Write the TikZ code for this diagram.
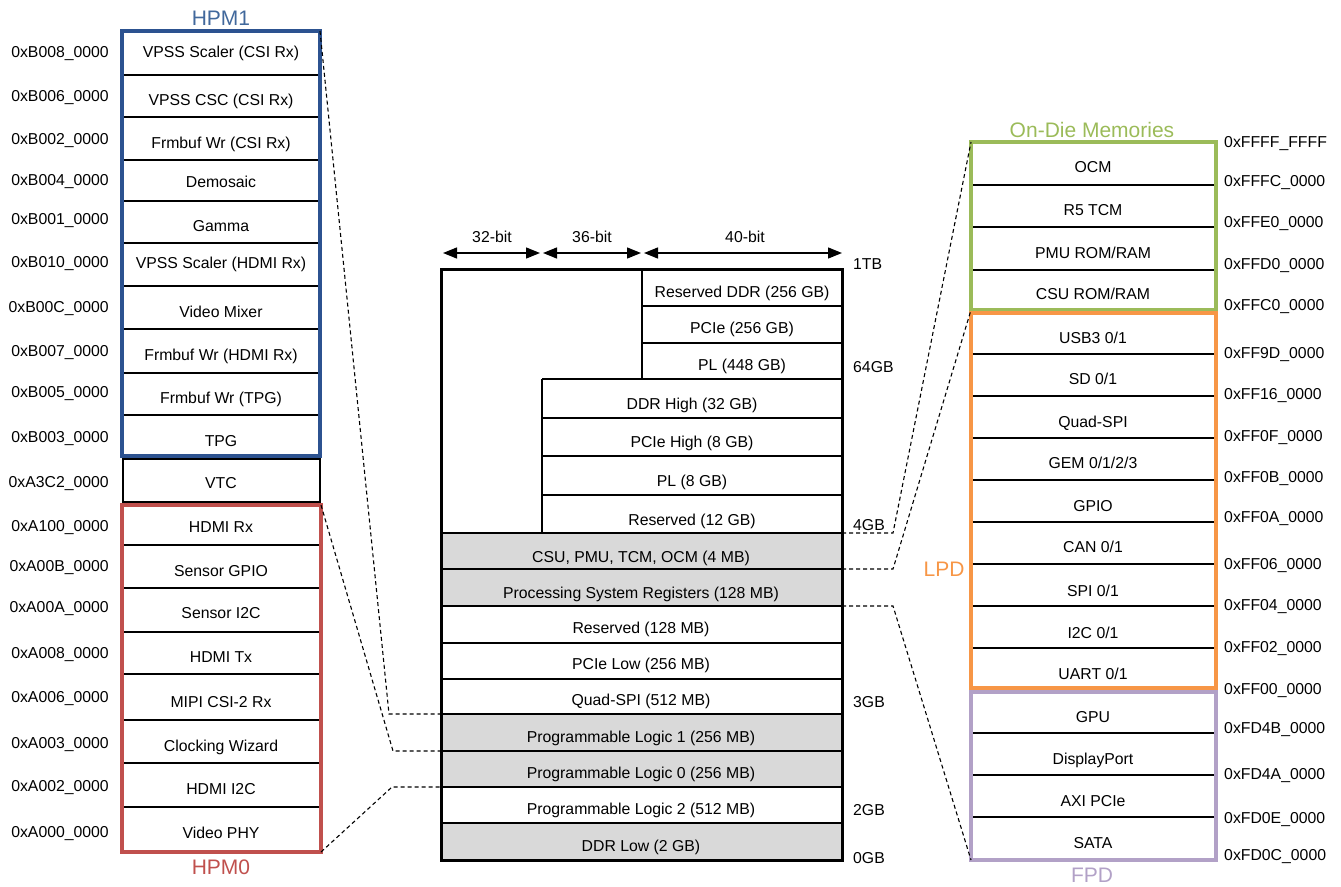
\documentclass[tikz,border=0pt]{standalone}
\usepackage{fontspec}
\setmainfont{Liberation Sans}
\usetikzlibrary{arrows.meta}
\definecolor{hpmblue}{HTML}{2C5290}
\definecolor{hpmbluet}{HTML}{41689C}
\definecolor{hpmred}{HTML}{C0504D}
\definecolor{odgreen}{HTML}{9BBB59}
\definecolor{lpdorange}{HTML}{F79646}
\definecolor{fpdpurple}{HTML}{B2A1C7}
\definecolor{cellgray}{HTML}{D9D9D9}
\begin{document}
\begin{tikzpicture}[x=1pt,y=-1pt,
  lbl/.style={font=\fontsize{15.8}{18}\selectfont, inner sep=0pt, text height=11.4pt, text depth=0pt},
  addrl/.style={lbl, anchor=east},
  addrr/.style={lbl, anchor=west},
  mtitle/.style={font=\fontsize{21}{24}\selectfont, inner sep=0pt, text height=15pt, text depth=0pt},
  boxframe/.style={draw, line width=3.2pt, anchor=north west, inner sep=0pt, outer sep=0pt},
  divline/.style={line width=2.6pt},
  lnk/.style={line width=1.1pt, dash pattern=on 4pt off 3pt},
  dimarrow/.style={line width=1.3pt, {Triangle[length=14pt,width=11pt]}-{Triangle[length=14pt,width=11pt]}}
]
\useasboundingbox (0,0) rectangle (1341,886);

% ---------------- Left column: HPM1 ----------------
\foreach \y in {75,117,160,201,243,286,329,373,415}
  \draw[divline] (122,\y) -- (320,\y);
\node[boxframe, draw=hpmblue, minimum width=198pt, minimum height=425pt] (hpm1) at (122,31) {};
\node[mtitle, text=hpmbluet] (hpm1t) at (221,18) {HPM1};
% VTC
\node[boxframe, draw=black, line width=2.6pt, minimum width=197pt, minimum height=43pt] (vtcbox) at (123,459) {};
% HPM0
\foreach \y in {545,588,632,674,720,763,807}
  \draw[divline] (122,\y) -- (321,\y);
\node[boxframe, draw=hpmred, minimum width=199pt, minimum height=347pt] (hpm0) at (122,505) {};
\node[mtitle, text=hpmred] (hpm0t) at (221,867) {HPM0};

\foreach \t/\y [count=\i] in {VPSS Scaler (CSI Rx)/52, VPSS CSC (CSI Rx)/100, Frmbuf Wr (CSI Rx)/143,
  Demosaic/182, Gamma/226, VPSS Scaler (HDMI Rx)/263, Video Mixer/312, Frmbuf Wr (HDMI Rx)/355,
  Frmbuf Wr (TPG)/398, TPG/441, VTC/483, HDMI Rx/527, Sensor GPIO/571, Sensor I2C/613, HDMI Tx/657,
  MIPI CSI-2 Rx/702, Clocking Wizard/746, HDMI I2C/789, Video PHY/833}
  \node[lbl] (lrow\i) at (221,\y) {\t};

\foreach \t/\y [count=\i] in {B008/52, B006/96, B002/139, B004/180, B001/219, B010/262, B00C/307,
  B007/351, B005/392, B003/437, A3C2/482, A100/526, A00B/566, A00A/607, A008/653, A006/697,
  A003/743, A002/786, A000/832}
  \node[addrl] (laddr\i) at (109,\y) {0x\t\_0000};

% ---------------- Middle column ----------------
\fill[cellgray] (441,533) rectangle (842,606);
\fill[cellgray] (441,714) rectangle (842,787);
\fill[cellgray] (441,823) rectangle (842,860);
\draw[divline] (642,269) -- (642,379);
\draw[divline] (542,379) -- (542,533);
\foreach \y in {306,343}
  \draw[divline] (642,\y) -- (842,\y);
\foreach \y in {379,418,456,495}
  \draw[divline] (542,\y) -- (842,\y);
\foreach \y in {533,569,606,643,679,714,751,787,823}
  \draw[divline] (441,\y) -- (842,\y);
\node[boxframe, draw=black, line width=3pt, minimum width=401pt, minimum height=591pt] (mbox) at (441,269) {};

\foreach \t/\y [count=\i] in {Reserved DDR (256 GB)/292, PCIe (256 GB)/328, PL (448 GB)/365}
  \node[lbl] (m40r\i) at (742,\y) {\t};
\foreach \t/\y [count=\i] in {DDR High (32 GB)/404, PCIe High (8 GB)/442, PL (8 GB)/481, Reserved (12 GB)/520}
  \node[lbl] (m36r\i) at (692,\y) {\t};
\foreach \t/\y [count=\i] in {{CSU, PMU, TCM, OCM (4 MB)}/557, Processing System Registers (128 MB)/593,
  Reserved (128 MB)/628, PCIe Low (256 MB)/664, Quad-SPI (512 MB)/700, Programmable Logic 1 (256 MB)/737,
  Programmable Logic 0 (256 MB)/773, Programmable Logic 2 (512 MB)/809, DDR Low (2 GB)/846}
  \node[lbl] (m32r\i) at (641,\y) {\t};

\foreach \t/\y [count=\i] in {1TB/264, 64GB/367, 4GB/525, 3GB/702, 2GB/810, 0GB/858}
  \node[addrr] (gb\i) at (853,\y) {\t};

% width arrows
\coordinate (a32l) at (443,253); \coordinate (a32r) at (540,253);
\coordinate (a36l) at (543,253); \coordinate (a36r) at (641,253);
\coordinate (a40l) at (644,253); \coordinate (a40r) at (842,253);
\draw[dimarrow] (a32l) -- (a32r);
\draw[dimarrow] (a36l) -- (a36r);
\draw[dimarrow] (a40l) -- (a40r);
\node[lbl] (w32) at (492,237) {32-bit};
\node[lbl] (w36) at (592,237) {36-bit};
\node[lbl] (w40) at (745,237) {40-bit};

% ---------------- Right column ----------------
\foreach \y in {185,227,270}
  \draw[divline] (971,\y) -- (1216,\y);
\foreach \y in {354,396,438,480,522,564,606,648}
  \draw[divline] (971,\y) -- (1216,\y);
\foreach \y in {733,775,817}
  \draw[divline] (971,\y) -- (1216,\y);
\node[boxframe, draw=odgreen, minimum width=245pt, minimum height=168pt] (odm) at (971,142) {};
\node[boxframe, draw=lpdorange, minimum width=245pt, minimum height=375pt] (lpd) at (971,313) {};
\node[boxframe, draw=fpdpurple, minimum width=245pt, minimum height=168pt] (fpd) at (971,692) {};
\node[mtitle, text=odgreen] (odmt) at (1092,130) {On-Die Memories};
\node[mtitle, text=lpdorange] (lpdt) at (944,569) {LPD};
\node[mtitle, text=fpdpurple] (fpdt) at (1092,875) {FPD};

\foreach \t/\y [count=\i] in {OCM/167, R5 TCM/210, PMU ROM{/}RAM/253, CSU ROM{/}RAM/294, USB3 0{/}1/338,
  SD 0{/}1/379, Quad-SPI/422, GEM 0{/}1{/}2{/}3/463, GPIO/506, CAN 0{/}1/547, SPI 0{/}1/591, I2C 0{/}1/633,
  UART 0{/}1/674, GPU/717, DisplayPort/759, AXI PCIe/801, SATA/843}
  \node[lbl] (rrow\i) at (1093,\y) {\t};

\foreach \t/\y [count=\i] in {FFFF\_FFFF/142, FFFC\_0000/181, FFE0\_0000/222, FFD0\_0000/264, FFC0\_0000/305,
  FF9D\_0000/353, FF16\_0000/394, FF0F\_0000/436, FF0B\_0000/477, FF0A\_0000/517, FF06\_0000/564,
  FF04\_0000/605, FF02\_0000/647, FF00\_0000/689, FD4B\_0000/728, FD4A\_0000/774, FD0E\_0000/818, FD0C\_0000/855}
  \node[addrr] (raddr\i) at (1224,\y) {0x\t};

% ---------------- Dashed connectors ----------------
\coordinate (pl1top) at (441,714);
\coordinate (pl0top) at (441,751);
\coordinate (pl0bot) at (441,787);
\coordinate (gbfour) at (842,533);
\coordinate (csubot) at (842,569);
\coordinate (psbot) at (842,606);
\coordinate (b1) at (389,714);
\coordinate (b2) at (393,751);
\coordinate (b3) at (392,787);
\coordinate (b4) at (893,533);
\coordinate (b5) at (893,569);
\coordinate (b6) at (893,606);
\draw[lnk] (hpm1.north east) -- (b1) -- (pl1top);
\draw[lnk] (hpm0.north east) -- (b2) -- (pl0top);
\draw[lnk] (hpm0.south east) -- (b3) -- (pl0bot);
\draw[lnk] (gbfour) -- (b4) -- (odm.north west);
\draw[lnk] (csubot) -- (b5) -- (odm.south west);
\draw[lnk] (psbot) -- (b6) -- (fpd.south west);
\end{tikzpicture}
\end{document}
